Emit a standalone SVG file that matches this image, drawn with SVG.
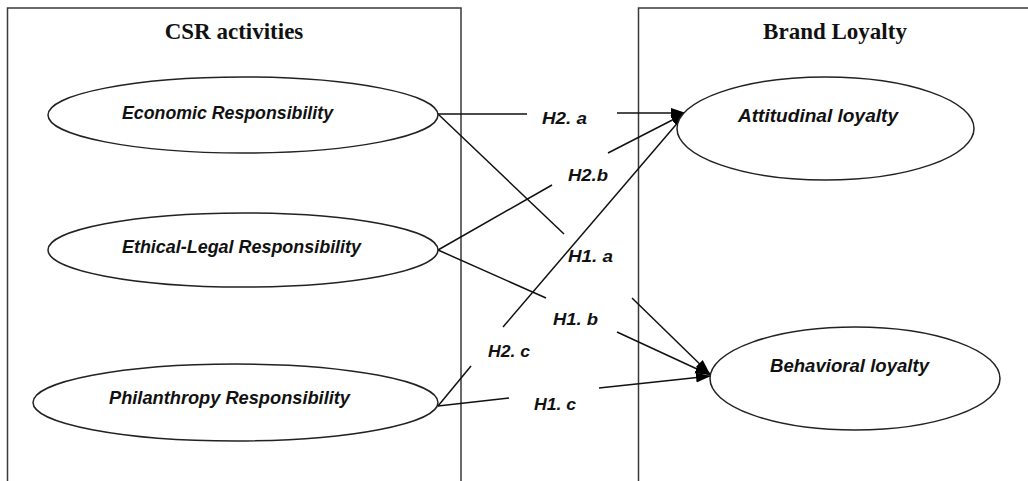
<svg xmlns="http://www.w3.org/2000/svg" width="1028" height="481" viewBox="0 0 1028 481">
<style>
.box{fill:none;stroke:#3a3a3a;stroke-width:1.5}
.title{font-family:"Liberation Serif","Times New Roman",serif;font-weight:bold;font-size:23px;fill:#111;text-anchor:middle}
.node ellipse{fill:#fff;stroke:#222;stroke-width:1.5}
.nt{font-family:"Liberation Sans",Arial,sans-serif;font-weight:bold;font-style:italic;font-size:18px;fill:#111;text-anchor:middle}
.edge{fill:none;stroke:#111;stroke-width:1.5}
.lbl{font-family:"Liberation Sans",Arial,sans-serif;font-weight:bold;font-style:italic;font-size:17px;fill:#111;text-anchor:middle}
</style>
<defs>
<marker id="arr" markerUnits="userSpaceOnUse" markerWidth="16" markerHeight="12" viewBox="0 0 16 12" refX="15" refY="6" orient="auto">
<path d="M0,1 L15,6 L0,11 Z" fill="#000"/>
</marker>
</defs>
<rect width="1028" height="481" fill="#fff"/>
<g id="csr-box">
<path class="box" d="M7.5,490 L7.5,8 L461,8 L461,490"/>
<text class="title" x="234" y="39">CSR activities</text>
</g>
<g id="loyalty-box">
<path class="box" d="M638.5,490 L638.5,8 L1040,8"/>
<text class="title" x="835" y="39">Brand Loyalty</text>
</g>
<g id="connectors">
<path class="edge" d="M438,114 L527,114"/>
<path class="edge" d="M617,113 L686,113" marker-end="url(#arr)"/>
<path class="edge" d="M438,114 L564,234"/>
<path class="edge" d="M632,298 L710,374" marker-end="url(#arr)"/>
<path class="edge" d="M438,250 L552,185"/>
<path class="edge" d="M608,153 L686,113" marker-end="url(#arr)"/>
<path class="edge" d="M438,250 L546,298"/>
<path class="edge" d="M617,332 L710,375" marker-end="url(#arr)"/>
<path class="edge" d="M438,406 L471,366"/>
<path class="edge" d="M503,327 L686,113" marker-end="url(#arr)"/>
<path class="edge" d="M438,406 L509,398"/>
<path class="edge" d="M599,388 L711,376" marker-end="url(#arr)"/>
<text class="lbl" x="564.5" y="124" textLength="45" lengthAdjust="spacingAndGlyphs">H2. a</text>
<text class="lbl" x="588" y="181" textLength="40" lengthAdjust="spacingAndGlyphs">H2.b</text>
<text class="lbl" x="590.5" y="262" textLength="45" lengthAdjust="spacingAndGlyphs">H1. a</text>
<text class="lbl" x="575.5" y="325" textLength="45" lengthAdjust="spacingAndGlyphs">H1. b</text>
<text class="lbl" x="509" y="357" textLength="42" lengthAdjust="spacingAndGlyphs">H2. c</text>
<text class="lbl" x="555" y="410" textLength="42" lengthAdjust="spacingAndGlyphs">H1. c</text>
</g>
<g id="economic" class="node">
<ellipse cx="243" cy="115" rx="195" ry="38"/>
<text class="nt" x="227.5" y="119" textLength="211" lengthAdjust="spacingAndGlyphs">Economic Responsibility</text>
</g>
<g id="ethical-legal" class="node">
<ellipse cx="243" cy="250" rx="195" ry="37"/>
<text class="nt" x="241.5" y="253" textLength="239" lengthAdjust="spacingAndGlyphs">Ethical-Legal Responsibility</text>
</g>
<g id="philanthropy" class="node">
<ellipse cx="235.5" cy="402.5" rx="202.5" ry="38.5"/>
<text class="nt" x="229.5" y="404" textLength="241" lengthAdjust="spacingAndGlyphs">Philanthropy Responsibility</text>
</g>
<g id="attitudinal" class="node">
<ellipse cx="825.5" cy="128.5" rx="148.5" ry="51.5"/>
<text class="nt" x="818" y="122" textLength="160" lengthAdjust="spacingAndGlyphs">Attitudinal loyalty</text>
</g>
<g id="behavioral" class="node">
<ellipse cx="855" cy="378.5" rx="145" ry="51.5"/>
<text class="nt" x="849.5" y="372" textLength="159" lengthAdjust="spacingAndGlyphs">Behavioral loyalty</text>
</g>
</svg>
